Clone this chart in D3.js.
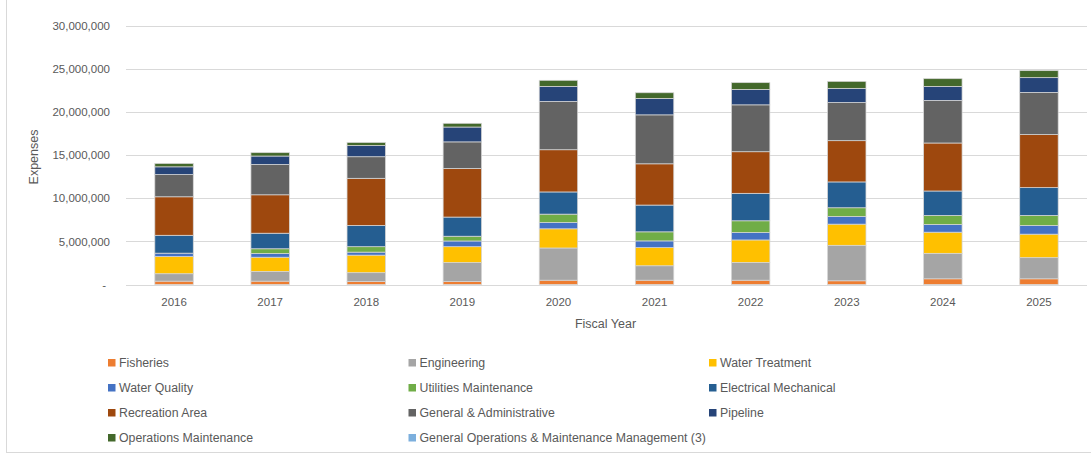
<!DOCTYPE html>
<html>
<head>
<meta charset="utf-8" />
<title>Expenses by fiscal year</title>
<style>
  body { margin: 0; background: #fff; }
  #chart svg { display: block; font-family: "Liberation Sans", Arial, sans-serif; }
</style>
</head>
<body>
<div id="chart"></div>
<script src="https://cdnjs.cloudflare.com/ajax/libs/d3/7.8.5/d3.min.js"></script>
<script>
// data (values in millions of dollars)
var years = ["2016", "2017", "2018", "2019", "2020", "2021", "2022", "2023", "2024", "2025"];
var seriesNames = ["Fisheries", "Engineering", "Water Treatment", "Water Quality", "Utilities Maintenance",
  "Electrical Mechanical", "Recreation Area", "General & Administrative", "Pipeline",
  "Operations Maintenance", "General Operations & Maintenance Management (3)"];
var seriesColors = ["#ED7D31", "#A5A5A5", "#FFC000", "#4472C4", "#70AD47",
  "#255E91", "#9E480E", "#636363", "#264478", "#43682B", "#7CAFDD"];

var fisheries      = [0.39, 0.39, 0.35, 0.35, 0.50, 0.50, 0.50, 0.43, 0.66, 0.66];
var engineering    = [0.86, 1.13, 1.02, 2.19, 3.73, 1.67, 2.06, 4.11, 2.95, 2.45];
var waterTreatment = [1.99, 1.64, 2.03, 1.84, 2.22, 2.10, 2.60, 2.45, 2.45, 2.72];
var waterQuality   = [0.39, 0.43, 0.35, 0.66, 0.73, 0.78, 0.86, 0.89, 0.89, 1.00];
var utilitiesMaint = [0.00, 0.55, 0.63, 0.55, 0.97, 1.05, 1.36, 1.01, 1.05, 1.17];
var electricalMech = [2.07, 1.80, 2.46, 2.22, 2.57, 3.10, 3.18, 2.99, 2.83, 3.22];
var recreationArea = [4.46, 4.45, 5.46, 5.63, 4.89, 4.78, 4.82, 4.78, 5.56, 6.14];
var generalAdmin   = [2.57, 3.51, 2.50, 3.08, 5.59, 5.67, 5.43, 4.42, 4.93, 4.89];
var pipeline       = [0.90, 0.98, 1.29, 1.72, 1.75, 1.90, 1.79, 1.64, 1.63, 1.71];
var operationsMaint= [0.39, 0.39, 0.36, 0.43, 0.70, 0.66, 0.78, 0.81, 0.89, 0.81];
var genOpsMgmt     = [0, 0, 0, 0, 0, 0, 0, 0, 0, 0];

var yTicks = [0, 5000000, 10000000, 15000000, 20000000, 25000000, 30000000];

var seriesValues = [fisheries, engineering, waterTreatment, waterQuality, utilitiesMaint,
  electricalMech, recreationArea, generalAdmin, pipeline, operationsMaint, genOpsMgmt];

!(function(){
  var width = 1091, height = 453;
  var margin = {top: 25.5, left: 126, right: 4, bottom: 168.5};

  var svg = d3.select("#chart").append("svg")
    .attr("width", width)
    .attr("height", height);

  // table for the stack
  var rows = years.map(function(y, i) {
    var r = {year: y};
    seriesNames.forEach(function(n, k) { r[n] = seriesValues[k][i] * 1e6; });
    return r;
  });
  var stacked = d3.stack().keys(seriesNames)(rows);

  var x = d3.scaleBand()
    .domain(years)
    .range([margin.left, width - margin.right])
    .paddingInner(0.6)
    .paddingOuter(0.3);

  var y = d3.scaleLinear()
    .domain([0, 30000000])
    .range([height - margin.bottom, margin.top]);

  var color = d3.scaleOrdinal().domain(seriesNames).range(seriesColors);

  // chart border
  svg.append("rect")
    .attr("x", 6.5).attr("y", -1)
    .attr("width", width).attr("height", height + 0.5)
    .attr("fill", "none").attr("stroke", "#d9d9d9");

  // gridlines
  svg.append("g")
    .selectAll("line")
    .data(yTicks)
    .enter().append("line")
    .attr("x1", margin.left).attr("x2", width - margin.right)
    .attr("y1", function(d) { return Math.round(y(d)) + 0.5; })
    .attr("y2", function(d) { return Math.round(y(d)) + 0.5; })
    .attr("stroke", "#d9d9d9")
    .attr("stroke-width", 1);

  // y axis labels
  var yAxis = d3.axisLeft(y)
    .tickValues(yTicks)
    .tickSize(0)
    .tickPadding(16)
    .tickFormat(function(d) { return d === 0 ? "-" : d3.format(",")(d); });
  var gy = svg.append("g")
    .attr("transform", "translate(" + margin.left + ",0)")
    .call(yAxis);
  gy.select(".domain").remove();
  gy.selectAll("text")
    .attr("fill", "#595959")
    .style("font-size", "11.5px")
    .attr("dx", function(d) { return d === 0 ? -4 : 0; });

  // x axis labels
  var xAxis = d3.axisBottom(x).tickSize(0).tickPadding(13);
  var gx = svg.append("g")
    .attr("transform", "translate(0," + (height - margin.bottom) + ")")
    .call(xAxis);
  gx.select(".domain").remove();
  gx.selectAll("text")
    .attr("fill", "#595959")
    .style("font-size", "11.5px");

  // bars
  svg.append("g")
    .selectAll("g")
    .data(stacked)
    .enter().append("g")
    .attr("fill", function(d) { return color(d.key); })
    .selectAll("rect")
    .data(function(d) { return d; })
    .enter().append("rect")
    .attr("x", function(d) { return x(d.data.year); })
    .attr("width", x.bandwidth())
    .attr("y", function(d) { return y(d[1]); })
    .attr("height", function(d) { return Math.max(0, y(d[0]) - y(d[1])); })
    .attr("stroke", "#d6d6d6")
    .attr("stroke-width", function(d) { return d[1] - d[0] > 0 ? 0.75 : 0; });

  // axis titles
  svg.append("text")
    .attr("x", (margin.left + width - margin.right) / 2 - 1)
    .attr("y", 328)
    .attr("text-anchor", "middle")
    .attr("fill", "#595959")
    .style("font-size", "12.5px")
    .text("Fiscal Year");

  svg.append("text")
    .attr("transform", "translate(38,157) rotate(-90)")
    .attr("text-anchor", "middle")
    .attr("fill", "#595959")
    .style("font-size", "12.5px")
    .text("Expenses");

  // legend, 3 columns
  var legend = svg.append("g")
    .selectAll("g")
    .data(seriesNames)
    .enter().append("g")
    .attr("transform", function(d, i) {
      var col = i % 3, row = Math.floor(i / 3);
      return "translate(" + (108 + col * 300.5) + "," + (362.5 + row * 25) + ")";
    });
  legend.append("rect")
    .attr("x", 0).attr("y", -3.5)
    .attr("width", 7.5).attr("height", 7.5)
    .attr("fill", function(d) { return color(d); });
  legend.append("text")
    .attr("x", 11)
    .attr("y", 4.5)
    .attr("fill", "#595959")
    .style("font-size", "12.3px")
    .text(function(d) { return d; });
}());
</script>
</body>
</html>
